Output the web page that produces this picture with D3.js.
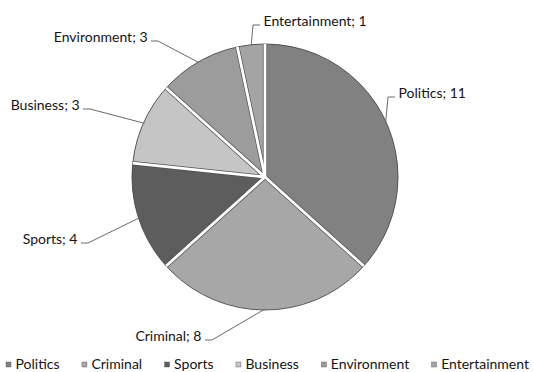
<!DOCTYPE html>
<html>
<head>
<meta charset="utf-8">
<script src="https://cdn.jsdelivr.net/npm/d3@7"></script>
<style>
  html, body { margin: 0; padding: 0; background: #fff; }
  svg { display: block; }
  text { font-family: Lato, "Open Sans", sans-serif; fill: #141414; }
</style>
</head>
<body>
<svg id="chart" width="534" height="372"></svg>
<script>
// News topics and how many stories fall under each
const categories = ["Politics", "Criminal", "Sports", "Business", "Environment", "Entertainment"];
const counts = [11, 8, 4, 3, 3, 1];

// Grey fill for each topic
const sliceColors = ["#818181", "#a7a7a7", "#5d5d5d", "#c5c5c5", "#9c9c9c", "#a4a4a4"];

// Where each callout's leader bends, relative to the pie centre, and which side its text sits on
const calloutBend = {
  Politics:      { dx: 123,  dy: -80,  side: "start" },
  Criminal:      { dx: -53,  dy: 163,  side: "end" },
  Sports:        { dx: -177, dy: 66,   side: "end" },
  Business:      { dx: -175, dy: -68,  side: "end" },
  Environment:   { dx: -107, dy: -136, side: "end" },
  Entertainment: { dx: -12,  dy: -152, side: "start" }
};

const W = 534, H = 372;
const cx = 265, cy = 177, R = 133;
const fontSize = 14;

const svg = d3.select("#chart");
const color = d3.scaleOrdinal().domain(categories).range(sliceColors);

const pie = d3.pie().sort(null).value(d => d.value);
const arcs = pie(categories.map((c, i) => ({ name: c, value: counts[i] })));
const arc = d3.arc().innerRadius(0).outerRadius(R);

const g = svg.append("g").attr("transform", `translate(${cx},${cy})`);

// Slices
g.selectAll("path.slice")
  .data(arcs)
  .join("path")
  .attr("class", "slice")
  .attr("d", arc)
  .attr("fill", d => color(d.data.name));

// Dark rim round the pie
g.append("circle")
  .attr("r", R)
  .attr("fill", "none")
  .attr("stroke", "#4a4a4a")
  .attr("stroke-width", 0.9);

// White separators of even width between slices, edged in dark grey
const spokes = arcs.map(d => [[0, 0], [Math.sin(d.startAngle) * R, -Math.cos(d.startAngle) * R]]);
g.selectAll("path.spoke-edge")
  .data(spokes)
  .join("path")
  .attr("class", "spoke-edge")
  .attr("d", d3.line())
  .attr("stroke", "#505050")
  .attr("stroke-width", 4.2);
g.selectAll("path.spoke")
  .data(spokes)
  .join("path")
  .attr("class", "spoke")
  .attr("d", d3.line())
  .attr("stroke", "#ffffff")
  .attr("stroke-width", 2.8);

// Callouts: leader from the slice edge to a bend, a short tick, then the label
const callouts = g.selectAll("g.callout")
  .data(arcs)
  .join("g")
  .attr("class", "callout");

callouts.each(function(d) {
  const sel = d3.select(this);
  const mid = (d.startAngle + d.endAngle) / 2;
  const edge = [Math.sin(mid) * (R - 1), -Math.cos(mid) * (R - 1)];
  const cfg = calloutBend[d.data.name];
  const bend = [cfg.dx, cfg.dy];
  const dir = cfg.side === "start" ? 1 : -1;
  const tickEnd = [bend[0] + dir * 7, bend[1]];

  sel.append("path")
    .attr("d", d3.line()([edge, bend, tickEnd]))
    .attr("fill", "none")
    .attr("stroke", "#6a6a6a")
    .attr("stroke-width", 1);

  sel.append("text")
    .attr("x", tickEnd[0] + dir * 3.5)
    .attr("y", bend[1] + 1)
    .attr("text-anchor", cfg.side)
    .attr("font-size", fontSize)
    .text(`${d.data.name}; ${d.data.value}`);
});

// Legend along the bottom, spread across the full width
const legend = svg.append("g").attr("class", "legend");
const items = legend.selectAll("g.item")
  .data(categories)
  .join("g")
  .attr("class", "item");

items.append("rect")
  .attr("width", 5)
  .attr("height", 5)
  .attr("y", -6.5)
  .attr("fill", d => color(d))
  .attr("stroke", "#555")
  .attr("stroke-width", 0.4);

items.append("text")
  .attr("x", 9.5)
  .attr("font-size", fontSize)
  .text(d => d);

const left = 6, right = 529;
const widths = [];
items.each(function() { widths.push(this.getBBox().width); });
const gap = (right - left - d3.sum(widths)) / (widths.length - 1);
let x = left;
items.each(function(d, i) {
  d3.select(this).attr("transform", `translate(${x},0)`);
  x += widths[i] + gap;
});
legend.attr("transform", "translate(0,368.5)");
</script>
</body>
</html>
